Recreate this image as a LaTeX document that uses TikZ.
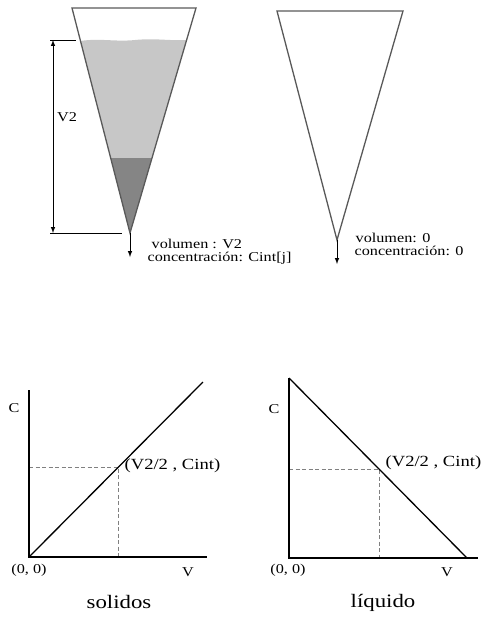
\documentclass[tikz,border=0pt]{standalone}
\usepackage{fontspec}
\setmainfont{Liberation Serif}[FakeStretch=1.2]
\usetikzlibrary{positioning}

\begin{document}
\begin{tikzpicture}[x=1pt,y=-1pt,>=latex,line width=1.3pt,node distance=2pt,
        lbl/.style={inner sep=0pt,font=\fontsize{13.5}{15}\selectfont},
        pt/.style={inner sep=0pt,font=\fontsize{15.5}{17}\selectfont},
        captext/.style={inner sep=0pt,font=\fontsize{19}{22}\selectfont},
        cone/.style={draw=black!65,line width=1.3pt,line join=miter},
        guide/.style={draw=black!50,line width=1pt,dash pattern=on 4pt off 2.5pt}]
    \useasboundingbox (0,0) rectangle (482,619);

    % first cone, filled
    \coordinate (tl) at (72,8);
    \coordinate (tr) at (196,8);
    \coordinate (tip) at (130,233);
    \coordinate (drop) at (130,257);
    \fill[black!22] (80.2,41) .. controls (100,38) and (115,42) .. (135,40)
        .. controls (155,38) and (170,41) .. (186.6,40) -- (152,158) -- (110.7,158) -- cycle;
    \fill[black!48] (110.7,158) -- (152,158) -- (tip) -- cycle;
    \draw[cone] (tl) -- (tr) -- (tip) -- cycle;
    \draw[->,line width=1pt] (tip) -- (drop);

    % height V2
    \coordinate (htop) at (53,40);
    \coordinate (hbot) at (53,233);
    \coordinate (htopl) at (50,40);
    \coordinate (htopr) at (76,40);
    \coordinate (hbotl) at (50,233);
    \coordinate (hbotr) at (122,233);
    \draw[line width=1pt] (htopl) -- (htopr);
    \draw[line width=1pt] (hbotl) -- (hbotr);
    \draw[<->,line width=1pt] (htop) -- (hbot);
    \node[lbl] (v2) at (67,117) {V2};

    \node[lbl,anchor=west] (vol1) at (151,244) {volumen : V2};
    \node[lbl,below=2pt of vol1.south west,anchor=north west,xshift=-4pt] (conc1) {concentración: Cint[j]};

    % second cone, empty
    \coordinate (tl2) at (277,11);
    \coordinate (tr2) at (403,11);
    \coordinate (tip2) at (337,240);
    \coordinate (drop2) at (337,264);
    \draw[cone] (tl2) -- (tr2) -- (tip2) -- cycle;
    \draw[->,line width=1pt] (tip2) -- (drop2);

    \node[lbl,anchor=west] (vol2) at (355,238) {volumen: 0};
    \node[lbl,below=2pt of vol2.south west,anchor=north west,xshift=-1pt] (conc2) {concentración: 0};

    % graph solidos
    \coordinate (o1) at (29,557);
    \coordinate (ya1) at (29,390);
    \coordinate (xa1) at (207,557);
    \coordinate (d1) at (203,382);
    \coordinate (p1) at (118.5,467);
    \draw[guide] (o1 |- p1) -- (p1) -- (p1 |- o1);
    \draw (ya1) -- (o1) -- (xa1);
    \draw (o1) -- (d1);
    \node[pt,anchor=west] (lp1) at (124,466) {(V2/2 , Cint)};
    \node[lbl] (c1) at (14,408) {C};
    \node[lbl] (z1) at (29,570) {(0, 0)};
    \node[lbl] (v1) at (188,572) {V};
    \node[captext] (sol) at (119,602) {solidos};

    % graph liquido
    \coordinate (o2) at (289,558);
    \coordinate (ya2) at (289,378);
    \coordinate (xa2) at (478,558);
    \coordinate (d2) at (467,558);
    \coordinate (p2) at (379,469);
    \draw[guide] (o2 |- p2) -- (p2) -- (p2 |- o2);
    \draw (ya2) -- (o2) -- (xa2);
    \draw (ya2) -- (d2);
    \node[pt,anchor=west] (lp2) at (385,463) {(V2/2 , Cint)};
    \node[lbl] (c2) at (274,409) {C};
    \node[lbl] (z2) at (288,570) {(0, 0)};
    \node[lbl] (v2b) at (447,572) {V};
    \node[captext] (liq) at (383,603) {líquido};
\end{tikzpicture}
\end{document}
